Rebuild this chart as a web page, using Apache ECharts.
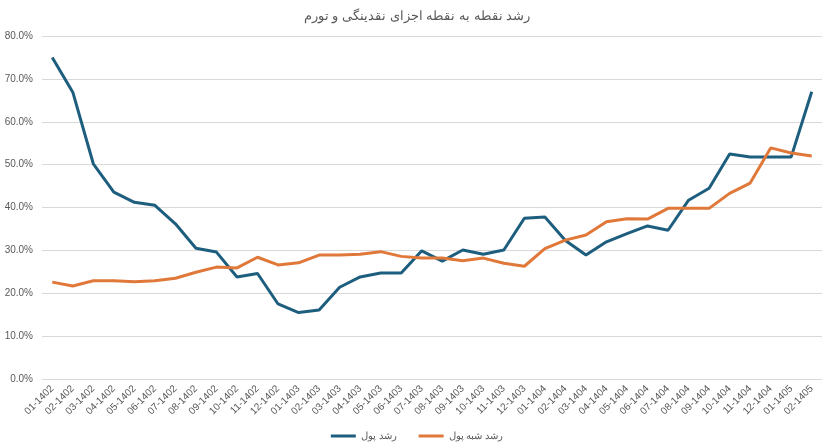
<!DOCTYPE html>
<html>
<head>
<meta charset="utf-8">
<script src="https://cdn.jsdelivr.net/npm/echarts@6/dist/echarts.min.js"></script>
<style>
html,body{margin:0;padding:0;background:#fff;}
#chart{width:834px;height:448px;}
</style>
</head>
<body>
<div id="chart"></div>
<script>
var categories = ["01-1402","02-1402","03-1402","04-1402","05-1402","06-1402","07-1402","08-1402","09-1402","10-1402","11-1402","12-1402",
"01-1403","02-1403","03-1403","04-1403","05-1403","06-1403","07-1403","08-1403","09-1403","10-1403","11-1403","12-1403",
"01-1404","02-1404","03-1404","04-1404","05-1404","06-1404","07-1404","08-1404","09-1404","10-1404","11-1404","12-1404",
"01-1405","02-1405"];
var moneyGrowth = [75.0,66.9,50.2,43.6,41.2,40.5,36.2,30.5,29.6,23.8,24.6,17.5,
15.5,16.1,21.4,23.8,24.7,24.7,29.9,27.5,30.1,29.1,30.1,37.5,
37.8,32.3,28.9,32.0,33.9,35.7,34.7,41.7,44.5,52.5,51.8,51.8,
51.8,67.0];
var quasiMoneyGrowth = [22.6,21.7,22.9,22.9,22.7,22.9,23.5,24.9,26.1,25.9,28.4,26.6,
27.1,28.9,28.9,29.1,29.7,28.6,28.2,28.2,27.6,28.2,27.0,26.3,
30.4,32.4,33.6,36.7,37.4,37.3,39.8,39.8,39.8,43.3,45.7,53.9,
52.7,52.0];
var seriesNames = ["رشد پول","رشد شبه پول"];
var titleText = "رشد نقطه به نقطه اجزای نقدینگی و تورم";

var chart = echarts.init(document.getElementById('chart'));
var textColor = '#595959';
var fontFam = 'Liberation Sans, Arial, "Noto Sans", sans-serif';
chart.setOption({
  animation:false,
  backgroundColor:'#fff',
  title:{text:titleText,left:'center',top:5,textStyle:{fontSize:13,fontWeight:'normal',color:textColor,fontFamily:fontFam}},
  grid:{left:42,right:12,top:36,bottom:69,containLabel:false},
  legend:{
    bottom:2,left:'center',icon:'rect',itemWidth:25,itemHeight:3,itemGap:22,
    textStyle:{fontSize:10,color:textColor,fontFamily:fontFam},
    data:seriesNames
  },
  xAxis:{
    type:'category',data:categories,boundaryGap:true,
    axisLine:{show:false},axisTick:{show:false},
    axisLabel:{rotate:45,fontSize:10,color:textColor,fontFamily:fontFam,interval:0,margin:8}
  },
  yAxis:{
    type:'value',min:0,max:80,interval:10,
    axisLine:{show:false},axisTick:{show:false},
    splitLine:{lineStyle:{color:'#d9d9d9',width:1}},
    axisLabel:{fontSize:10,color:textColor,fontFamily:fontFam,margin:9,formatter:function(v){return v.toFixed(1)+'%';}}
  },
  series:[
    {name:seriesNames[0],type:'line',data:moneyGrowth,symbol:'none',lineStyle:{width:3,color:'#1d5e7e'},itemStyle:{color:'#1d5e7e'}},
    {name:seriesNames[1],type:'line',data:quasiMoneyGrowth,symbol:'none',lineStyle:{width:3,color:'#e0783a'},itemStyle:{color:'#e0783a'}}
  ]
});
</script>
</body>
</html>
